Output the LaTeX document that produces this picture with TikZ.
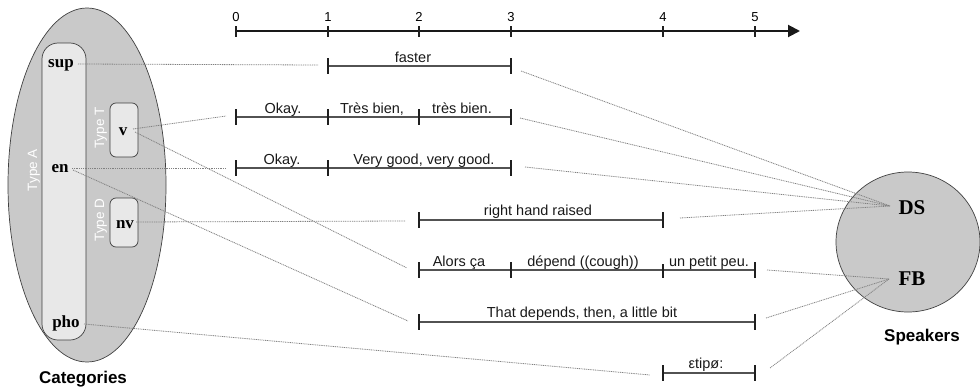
\documentclass[tikz,border=0pt]{standalone}
\usepackage{fontspec}
\setmainfont{Liberation Sans}
\newfontfamily\timesfont{Liberation Serif}
\usetikzlibrary{arrows.meta}
\begin{document}
\begin{tikzpicture}[x=1pt,y=-1pt,
  tline/.style={draw=black!68,line width=1.5pt},
  tk/.style={draw=black!88,line width=1.6pt},
  conn/.style={draw=black!50,line width=0.8pt,dash pattern=on 1pt off 0.8pt},
  utt/.style={font=\fontsize{14.5}{16}\selectfont,anchor=base,inner sep=0pt,text=black!90},
  num/.style={font=\fontsize{13}{14}\selectfont,anchor=base,inner sep=0pt},
  cat/.style={font=\timesfont\bfseries\fontsize{17}{18}\selectfont,anchor=base,inner sep=0pt},
  spk/.style={font=\timesfont\bfseries\fontsize{21}{22}\selectfont,anchor=base,inner sep=0pt},
  typ/.style={font=\fontsize{13.5}{14}\selectfont,text=white,rotate=90,inner sep=0pt},
  ttl/.style={font=\bfseries\fontsize{17}{18}\selectfont,anchor=base,inner sep=0pt},
  bigfill/.style={fill=black!21,draw=black!75,line width=0.7pt},
  boxfill/.style={fill=black!9,draw=black!75,line width=0.7pt},
]
\useasboundingbox (0,0) rectangle (980,388);

% ---------- Categories ----------
\path[bigfill] (87,185) ellipse [x radius=79pt, y radius=177pt];
\path[boxfill,rounded corners=16pt] (42,43) rectangle (86,340);
\path[boxfill,rounded corners=6pt] (110,103) rectangle (138,157);
\path[boxfill,rounded corners=6pt] (110,198) rectangle (138,247);
\node[typ] (typeA) at (34,170) {Type A};
\node[typ] (typeT) at (101,128) {Type T};
\node[typ] (typeD) at (101,220) {Type D};
\node[cat] (sup) at (61,67) {sup};
\node[cat] (en) at (60,172) {en};
\node[cat] (pho) at (66,327) {pho};
\node[cat] (v) at (123,135) {v};
\node[cat] (nv) at (125,228) {nv};
\node[ttl] (categories) at (83,383) {Categories};

% ---------- Speakers ----------
\path[bigfill] (908,242) ellipse [x radius=72pt, y radius=70pt];
\node[spk] (DS) at (912,214) {DS};
\node[spk] (FB) at (912,285) {FB};
\node[ttl] (speakers) at (922,341) {Speakers};

% ---------- time axis ----------
\coordinate (a0) at (236,31);
\coordinate (aEnd) at (800,31);
\draw[line width=2pt,draw=black!90,-{Triangle[length=12pt,width=12pt]}] (a0) -- (aEnd);
\foreach \x/\t [count=\i] in {236/0,328/1,419/2,511/3,663/4,755/5}{
  \draw[tk] (\x,26) -- (\x,37);
  \node[num] (n\i) at (\x,21) {\t};
}

% ---------- utterance timelines ----------
% faster
\draw[tline] (328,66) -- (511,66);
\foreach \x in {328,511} \draw[tk] (\x,58) -- (\x,74);
\node[utt] (faster) at (413,62) {faster};
% row 2
\draw[tline] (236,117) -- (511,117);
\foreach \x in {236,328,419,511} \draw[tk] (\x,109) -- (\x,125);
\node[utt] (okay1) at (283,113) {Okay.};
\node[utt] (tres1) at (372,113) {Très bien,};
\node[utt] (tres2) at (462,113) {très bien.};
% row 3
\draw[tline] (236,168) -- (511,168);
\foreach \x in {236,328,511} \draw[tk] (\x,160) -- (\x,176);
\node[utt] (okay2) at (282,164) {Okay.};
\node[utt] (vgood) at (424,164) {Very good, very good.};
% right hand raised
\draw[tline] (419,220) -- (663,220);
\foreach \x in {419,663} \draw[tk] (\x,212) -- (\x,228);
\node[utt] (rhr) at (538,215) {right hand raised};
% Alors ça
\draw[tline] (419,270) -- (755,270);
\foreach \x in {419,511,755} \draw[tk] (\x,262) -- (\x,278);
\draw[tk] (663,264) -- (663,278);
\node[utt] (alors) at (459,266) {Alors ça};
\node[utt] (depend) at (583,266) {dépend ((cough))};
\node[utt] (petit) at (709,266) {un petit peu.};
% That depends
\draw[tline] (419,322) -- (755,322);
\foreach \x in {419,755} \draw[tk] (\x,314) -- (\x,330);
\node[utt] (that) at (582,317) {That depends, then, a little bit};
% etipo
\draw[tline] (663,373) -- (755,373);
\foreach \x in {663,755} \draw[tk] (\x,365) -- (\x,381);
\node[utt] (etipo) at (706,368) {εtipø:};

% ---------- connector ends ----------
\coordinate (supO) at (78,64);
\coordinate (vO) at (133,129);
\coordinate (vO2) at (135,132);
\coordinate (enO) at (72,168);
\coordinate (enO2) at (73,170);
\coordinate (nvO) at (136,222);
\coordinate (phoO) at (84,324);
\coordinate (fasterL) at (318,65);
\coordinate (fasterR) at (521,71);
\coordinate (r2L) at (226,116);
\coordinate (r2R) at (520,118);
\coordinate (r3L) at (226,168);
\coordinate (r3R) at (525,167);
\coordinate (rhL) at (405,221);
\coordinate (rhR) at (680,218);
\coordinate (alL) at (407,268);
\coordinate (alR) at (767,270);
\coordinate (thL) at (408,321);
\coordinate (thR) at (766,318);
\coordinate (epL) at (650,375);
\coordinate (epR) at (770,368);
\coordinate (dsP) at (890,206);
\coordinate (fbP) at (889,279);

% ---------- connectors ----------
\draw[conn] (supO) -- (fasterL);
\draw[conn] (vO) -- (r2L);
\draw[conn] (vO2) -- (alL);
\draw[conn] (enO) -- (r3L);
\draw[conn] (enO2) -- (thL);
\draw[conn] (nvO) -- (rhL);
\draw[conn] (phoO) -- (epL);
\draw[conn] (fasterR) -- (dsP);
\draw[conn] (r2R) -- (dsP);
\draw[conn] (r3R) -- (dsP);
\draw[conn] (rhR) -- (dsP);
\draw[conn] (alR) -- (fbP);
\draw[conn] (thR) -- (fbP);
\draw[conn] (epR) -- (fbP);
\end{tikzpicture}
\end{document}
